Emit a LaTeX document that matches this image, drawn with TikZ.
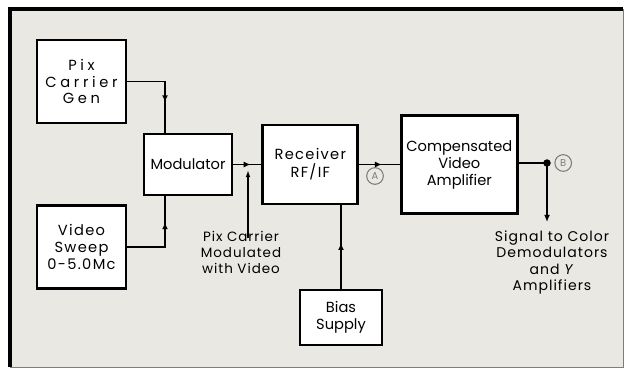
\documentclass[tikz,border=0pt]{standalone}
\usepackage{fontspec}
\setmainfont{Poppins}
\newfontfamily\widefont[LetterSpace=25]{Poppins}
\newfontfamily\spacedfont[LetterSpace=9]{Poppins}
\newfontfamily\notefont[LetterSpace=7]{Poppins}
\usetikzlibrary{arrows.meta,positioning,calc,decorations.markings}
\definecolor{paper}{RGB}{234,232,227}
\definecolor{markgray}{RGB}{125,125,125}
\tikzset{
  block/.style={
    draw=black,
    line width=2.4pt,
    fill=white,
    align=center,
    inner sep=2pt,
    font=\fontsize{12.5}{14.5}\selectfont
  },
  line/.style={line width=1.6pt},
  flow/.style={postaction={decorate},
    decoration={markings, mark=at position #1 with {\arrow{Latex[length=6pt,width=5pt]}}}},
  tag/.style={circle, draw=markgray, line width=0.9pt, text=markgray,
    inner sep=0pt, minimum size=0.5cm, font=\fontsize{8.5}{8.5}\selectfont},
  note/.style={align=center, inner sep=0pt, font=\notefont\fontsize{11.5}{13.7}\selectfont}
}
\begin{document}
\begin{tikzpicture}[x=0.03cm, y=-0.03cm]
        \useasboundingbox (0,0) rectangle (627,371);
        % paper and frame
        \fill[white] (0,0) rectangle (627,371);
        \fill[paper] (10,9) rectangle (623,367);
        \draw[markgray, line width=0.8pt] (623,9) -- (623,367) -- (10,367);
        \draw[line width=3.4pt] (10,367) -- (10,9) -- (623,9);
        % blocks
        \node[block, font=\widefont\fontsize{12.5}{14.5}\selectfont, minimum width=2.67cm, minimum height=2.49cm] (gen) at (81.5,81.5) {Pix\\Carrier\\Gen};
        \node[block, font=\spacedfont\fontsize{12.5}{14.5}\selectfont, below=2.4cm of gen, minimum width=2.67cm, minimum height=2.49cm] (sweep) {Video\\Sweep\\0-5.0Mc};
        \node[block, minimum width=2.64cm, minimum height=1.83cm] (mod) at (188,164.5) {Modulator};
        \node[block, font=\spacedfont\fontsize{12.5}{15.5}\selectfont, right=0.84cm of mod, minimum width=2.85cm, minimum height=2.37cm] (rx) {Receiver\\RF/IF};
        \node[block, right=1.22cm of rx, minimum width=3.48cm, minimum height=2.94cm] (amp) {Compensated\\Video\\Amplifier};
        \node[block, minimum width=2.46cm, minimum height=1.65cm] (bias) at (341,317.5) {Bias\\Supply};
        % labels
        \node[note, anchor=north] (pcm) at (241,231) {Pix Carrier\\Modulated\\with Video};
        \node[note, anchor=north, font=\notefont\fontsize{12}{13.7}\selectfont] (sig) at (552,231) {Signal to Color\\Demodulators\\and \textit{Y}\\Amplifiers};
        \coordinate (tap) at (547,163);
        \coordinate (out) at (547,222);
        \coordinate (hit) at (248,170);
        \node[tag] (ta) at (375,176) {A};
        \node[tag, right=0.22cm of tap] (tb) {B};
        % connectors
        \draw[line, flow=0.66] (gen.east) -| ($(mod.north)+(-23,0)$);
        \draw[line, flow=0.71] (sweep.east) -| ($(mod.south)+(-23,0)$);
        \draw[line, flow=0.62] (mod) -- (rx);
        \draw[line, flow=0.56] (rx) -- (amp);
        \draw[line, flow=0.55] (bias.north) -- (bias.north |- rx.south);
        \draw[line] (amp.east |- tap) -- (tap);
        \fill (tap) circle (3.2pt);
        \draw[line, -{Latex[length=6pt,width=5pt]}] (tap) -- (out);
        \draw[line width=1.2pt, -{Latex[length=6pt,width=4pt]}] ([yshift=-6pt]pcm.north -| hit) -- (hit);
      \end{tikzpicture}
\end{document}
